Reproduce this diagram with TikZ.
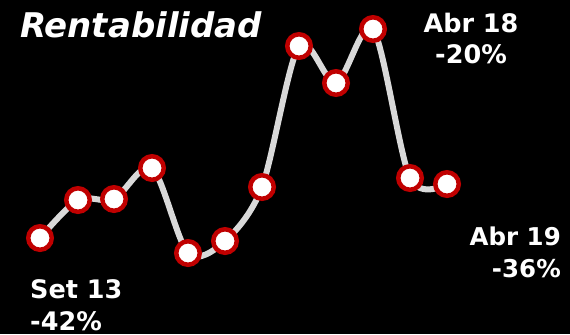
\documentclass[tikz,border=0pt]{standalone}
\usepackage{fontspec}
\setmainfont{DejaVu Sans}
\definecolor{ptred}{HTML}{C00000}
\definecolor{lgray}{HTML}{D9D9D9}
\begin{document}
\begin{tikzpicture}[x=1bp,y=-1bp,
  pt/.style={circle,draw=ptred,fill=white,line width=4.5bp,minimum size=23.5bp,inner sep=0pt},
  lbl/.style={text=white,font=\bfseries\fontsize{25.5bp}{31bp}\selectfont,inner sep=0pt},
  lbls/.style={text=white,font=\bfseries\fontsize{24.5bp}{31bp}\selectfont,inner sep=0pt}]
\fill[black] (0,0) rectangle (570,334);
\useasboundingbox (0,0) rectangle (570,334);
\coordinate (c1) at (40,238);
\coordinate (c2) at (78,200);
\coordinate (c3) at (114,199);
\coordinate (c4) at (152,168);
\coordinate (c5) at (188,253);
\coordinate (c6) at (225,241);
\coordinate (c7) at (262,187);
\coordinate (c8) at (299,46);
\coordinate (c9) at (336,83);
\coordinate (c10) at (373,29);
\coordinate (c11) at (410,178);
\coordinate (c12) at (447,184);
\draw[lgray,line width=6bp] plot[smooth,tension=0.5] coordinates {(c1) (c2) (c3) (c4) (c5) (c6) (c7) (c8) (c9) (c10) (c11) (c12)};
\foreach \i in {1,...,12}{\node[pt] (p\i) at (c\i) {};}
\node[text=white,font=\bfseries\itshape\fontsize{34bp}{38bp}\selectfont,inner sep=0pt,anchor=base west] (title) at (20,37) {Rentabilidad};
\node[lbl,anchor=base] (a18) at (471,32) {Abr 18};
\node[lbl,anchor=base] (a18v) at (471,63) {-20\%};
\node[lbls,anchor=base east] (a19) at (561,245) {Abr 19};
\node[lbls,anchor=base east] (a19v) at (561,277) {-36\%};
\node[lbl,anchor=base west] (s13) at (30,298) {Set 13};
\node[lbl,anchor=base west] (s13v) at (30,330) {-42\%};
\end{tikzpicture}
\end{document}
